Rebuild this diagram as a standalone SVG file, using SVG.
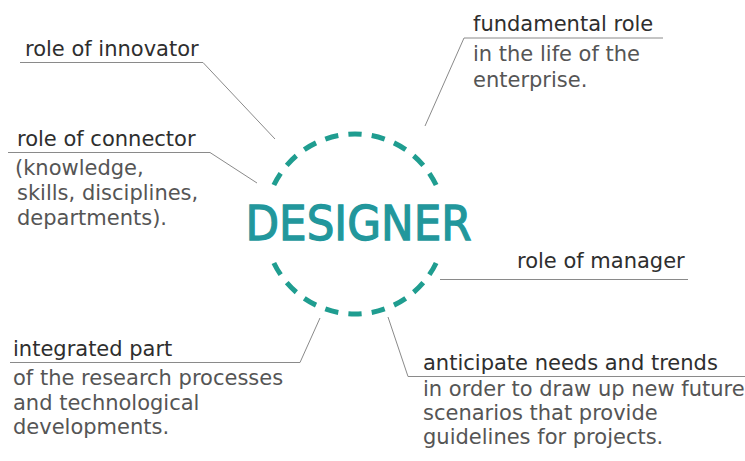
<svg xmlns="http://www.w3.org/2000/svg" width="745" height="461" viewBox="0 0 745 461">
  <style>
    .head { font-family: "DejaVu Sans", "Liberation Sans", sans-serif; font-size: 21px; fill: #2e2e2e; }
    .body { font-family: "DejaVu Sans", "Liberation Sans", sans-serif; font-size: 21px; fill: #555555; }
    .lead { fill: none; stroke: #8a8a8a; stroke-width: 1; }
    .title { font-family: "DejaVu Sans", sans-serif; font-size: 48px; fill: #22979c; stroke: #22979c; stroke-width: 1.3; }
  </style>
  <rect width="745" height="461" fill="#ffffff"/>

  <!-- leader lines from each role to the central circle -->
  <g id="connectors">
    <polyline class="lead" points="20,62.5 203,62.5 275,139"/>
    <polyline class="lead" points="8,152.5 210,152.5 257,183"/>
    <polyline class="lead" points="663,38 464,38 425,126"/>
    <polyline class="lead" points="440,279.5 688,279.5"/>
    <polyline class="lead" points="745,376.5 408,376.5 388,317"/>
    <polyline class="lead" points="10,362.5 300,362.5 320,318"/>
  </g>

  <!-- central node: dashed ring broken on both sides by the title -->
  <g id="designer">
    <circle cx="355" cy="224" r="90" pathLength="360" fill="none" stroke="#1f9d90" stroke-width="5"
            stroke-dasharray="8.6 6.4 8.6 6.4 8.6 6.4 8.6 6.4 8.6 6.4 8.6 6.4 8.6 6.4 8.6 6.4 8.6 51.4"
            stroke-dashoffset="154.3"/>
    <text class="title" x="358.5" y="240" text-anchor="middle" textLength="226" lengthAdjust="spacingAndGlyphs">DESIGNER</text>
  </g>

  <g id="innovator">
    <text class="head" x="25" y="56">role of innovator</text>
  </g>

  <g id="connector">
    <text class="head" x="17" y="145.5">role of connector</text>
    <text class="body" x="15" y="175">(knowledge,</text>
    <text class="body" x="17" y="200">skills, disciplines,</text>
    <text class="body" x="17" y="225">departments).</text>
  </g>

  <g id="fundamental">
    <text class="head" x="473" y="31">fundamental role</text>
    <text class="body" x="473" y="61">in the life of the</text>
    <text class="body" x="473" y="87">enterprise.</text>
  </g>

  <g id="manager">
    <text class="head" x="517" y="268">role of manager</text>
  </g>

  <g id="anticipate">
    <text class="head" x="423" y="370">anticipate needs and trends</text>
    <text class="body" x="423" y="395.5">in order to draw up new future</text>
    <text class="body" x="423" y="420">scenarios that provide</text>
    <text class="body" x="423" y="444">guidelines for projects.</text>
  </g>

  <g id="integrated">
    <text class="head" x="13" y="356">integrated part</text>
    <text class="body" x="13" y="385">of the research processes</text>
    <text class="body" x="13" y="410">and technological</text>
    <text class="body" x="13" y="434">developments.</text>
  </g>
</svg>
